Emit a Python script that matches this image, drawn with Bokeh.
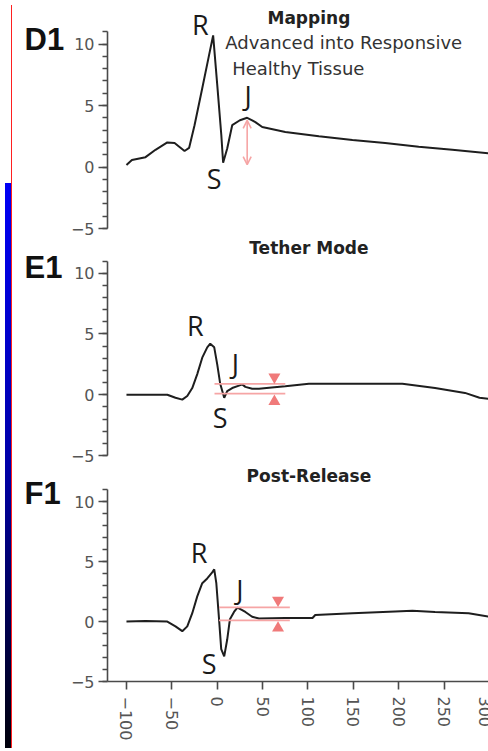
from bokeh.plotting import figure
from bokeh.layouts import column, row
from bokeh.models import (Label, Arrow, OpenHead, SingleIntervalTicker, Range1d, Div)
from bokeh.embed import file_html
from bokeh.resources import INLINE

# ---------------- data ----------------
d1_x = [-100, -94, -79, -68, -55, -47, -36, -31, -25, -16.5, -9, -4.5, 0, 4.5, 6.5, 11, 16.5, 25, 33, 38.5, 42, 49.6, 75, 112, 149, 185, 222, 259, 300]
d1_y = [0.16, 0.57, 0.8, 1.4, 2.0, 1.95, 1.3, 1.55, 3.4, 6.4, 9.1, 10.7, 6.7, 2.6, 0.35, 1.5, 3.4, 3.8, 4.0, 3.8, 3.65, 3.25, 2.85, 2.5, 2.2, 1.95, 1.65, 1.4, 1.1]

e1_x = [-100, -79, -55, -46, -38.5, -33, -27.5, -22, -16.5, -11, -7.7, -3.3, 0, 3.3, 7.7, 11, 16.5, 24, 27.5, 31, 38.5, 46, 60, 75, 101, 149, 204, 240, 273, 289, 300]
e1_y = [0, 0, 0, -0.25, -0.4, -0.1, 0.55, 1.7, 3.05, 3.9, 4.2, 3.9, 2.5, 0.9, -0.25, 0.3, 0.55, 0.75, 0.85, 0.65, 0.5, 0.5, 0.6, 0.7, 0.9, 0.9, 0.9, 0.55, 0.15, -0.25, -0.35]

f1_x = [-100, -79, -55, -46, -38.5, -33, -27.5, -22, -16.5, -11, -5.5, -3.3, -1, 2, 4.4, 7.7, 11, 14, 18.5, 22, 24, 31, 38.5, 46, 75, 105, 108, 149, 196, 215, 240, 277, 300]
f1_y = [0, 0.05, 0, -0.4, -0.8, -0.4, 0.7, 2.1, 3.2, 3.6, 4.1, 4.35, 3.2, 0.2, -2.3, -2.9, -1.5, 0.2, 0.8, 1.15, 1.1, 0.8, 0.4, 0.25, 0.3, 0.3, 0.55, 0.7, 0.85, 0.9, 0.8, 0.7, 0.4]

# J-point measurement marks
d1_arrow_x = 33
d1_arrow_y = [0.2, 3.8]
e1_band_x = [-3, 75]
e1_band_y = [0.1, 0.9]
e1_tri_x = 63
e1_tri_y = [1.46, -0.55]
f1_band_x = [2, 80]
f1_band_y = [0.1, 1.18]
f1_tri_x = 67
f1_tri_y = [1.79, -0.55]

panel_ids = ["D1", "E1", "F1"]
panel_titles = ["Mapping", "Tether Mode", "Post-Release"]
x_ticks_interval = 50
y_ticks_interval = 5

LINE = "#1e1e1e"
AX = "#4a4a4a"
LBL = "#555555"
RED_LINE = "#f6a5a5"
RED_FILL = "#f07a7a"

x_rng = Range1d(-120.9, 301.1)


def make_panel(height, ytop, border_bottom, show_x):
    p = figure(width=423, height=height, output_backend="svg", toolbar_location=None,
               x_range=x_rng, y_range=Range1d(-5, ytop), min_border=0,
               min_border_left=40, min_border_right=0, min_border_top=0,
               min_border_bottom=border_bottom)
    p.outline_line_color = None
    p.xgrid.visible = False
    p.ygrid.visible = False
    p.background_fill_color = "white"
    p.border_fill_color = "white"
    ya = p.yaxis[0]
    ya.ticker = SingleIntervalTicker(interval=y_ticks_interval, num_minor_ticks=5)
    ya.bounds = (-5, 11)
    ya.axis_line_color = AX
    ya.axis_line_width = 1.6
    ya.major_tick_line_color = AX
    ya.major_tick_line_width = 1.6
    ya.minor_tick_line_color = AX
    ya.minor_tick_line_width = 1.6
    ya.major_tick_out = 9
    ya.major_tick_in = 0
    ya.minor_tick_out = 5
    ya.minor_tick_in = 0
    ya.major_label_text_font = "DejaVu Sans"
    ya.major_label_text_font_size = "16px"
    ya.major_label_text_color = LBL
    ya.major_label_standoff = 4
    xa = p.xaxis[0]
    if show_x:
        xa.ticker = SingleIntervalTicker(interval=x_ticks_interval, num_minor_ticks=0)
        xa.axis_line_color = AX
        xa.axis_line_width = 1.6
        xa.major_tick_line_color = AX
        xa.major_tick_line_width = 1.6
        xa.major_tick_out = 8
        xa.major_tick_in = 0
        xa.minor_tick_line_color = None
        xa.major_label_orientation = "vertical"
        xa.major_label_text_font = "DejaVu Sans"
        xa.major_label_text_font_size = "16px"
        xa.major_label_text_color = LBL
        xa.major_label_standoff = 7
    else:
        xa.visible = False
    return p


def add_text(p, x, y, text, size, bold=False, font="Open Sans", color="#1a1a1a", align="center"):
    p.add_layout(Label(x=x, y=y, text=text, text_font=font, text_font_size=size,
                       text_font_style="bold" if bold else "normal", text_color=color,
                       text_align=align, text_baseline="middle"))


pa = make_panel(237, 13.54, 9, False)
pb = make_panel(228, 12.94, 10, False)
pc = make_panel(278, 13.02, 60, True)

for p, xs, ys in [(pa, d1_x, d1_y), (pb, e1_x, e1_y), (pc, f1_x, f1_y)]:
    p.line(xs, ys, line_color=LINE, line_width=2)

# panel D1 annotations
pa.add_layout(Arrow(x_start=d1_arrow_x, y_start=d1_arrow_y[0], x_end=d1_arrow_x, y_end=d1_arrow_y[1],
                    line_color=RED_LINE, line_width=1.6,
                    start=OpenHead(size=8, line_color=RED_LINE, line_width=1.6),
                    end=OpenHead(size=8, line_color=RED_LINE, line_width=1.6)))

for p, bx, by, tx, ty in [(pb, e1_band_x, e1_band_y, e1_tri_x, e1_tri_y),
                          (pc, f1_band_x, f1_band_y, f1_tri_x, f1_tri_y)]:
    for yv in by:
        p.line(bx, [yv, yv], line_color=RED_LINE, line_width=1.8)
    p.scatter([tx], [ty[0]], marker="inverted_triangle", size=12, fill_color=RED_FILL, line_color=None)
    p.scatter([tx], [ty[1]], marker="triangle", size=12, fill_color=RED_FILL, line_color=None)

# titles
for p, t, yv in [(pa, panel_titles[0], 12.1), (pb, panel_titles[1], 12.1), (pc, panel_titles[2], 12.15)]:
    add_text(p, 101, yv, t, "17px", bold=True, font="DejaVu Sans", color="#222222")
add_text(pa, 8.8, 10.1, "Advanced into Responsive", "18px", font="DejaVu Sans", color="#333333", align="left")
add_text(pa, 16.5, 8.05, "Healthy Tissue", "18px", font="DejaVu Sans", color="#333333", align="left")

# wave labels
add_text(pa, -18.7, 11.55, "R", "27px")
add_text(pa, -3.3, -0.9, "S", "27px")
add_text(pa, 34, 5.85, "J", "27px")
add_text(pb, -24, 5.7, "R", "27px")
add_text(pb, 20, 2.55, "J", "27px")
add_text(pb, 3.3, -1.9, "S", "27px")
add_text(pc, -20, 5.8, "R", "27px")
add_text(pc, 25, 2.65, "J", "27px")
add_text(pc, -9, -3.5, "S", "27px")

# left column carrying the panel identifiers
side = figure(width=50, height=743, output_backend="svg", toolbar_location=None,
              x_range=Range1d(0, 50), y_range=Range1d(743, 0), min_border=0)
side.axis.visible = False
side.grid.visible = False
side.outline_line_color = None
for t, yv in zip(panel_ids, [39, 267, 493]):
    add_text(side, 7, yv, t, "31px", bold=True, font="Liberation Sans", color="#111111", align="left")

strip = Div(text="", width=7, height=743,
            styles={"background": "linear-gradient(to bottom, #ffffff 0px, #ffffff 178px, #0000f5 178px, #0000a8 460px, #00000a 743px)",
                    "border-right": "1px solid #ff2020", "box-sizing": "border-box"})

layout = row(strip, side, column(pa, pb, pc))

open("out.html", "w").write(file_html(layout, INLINE))
